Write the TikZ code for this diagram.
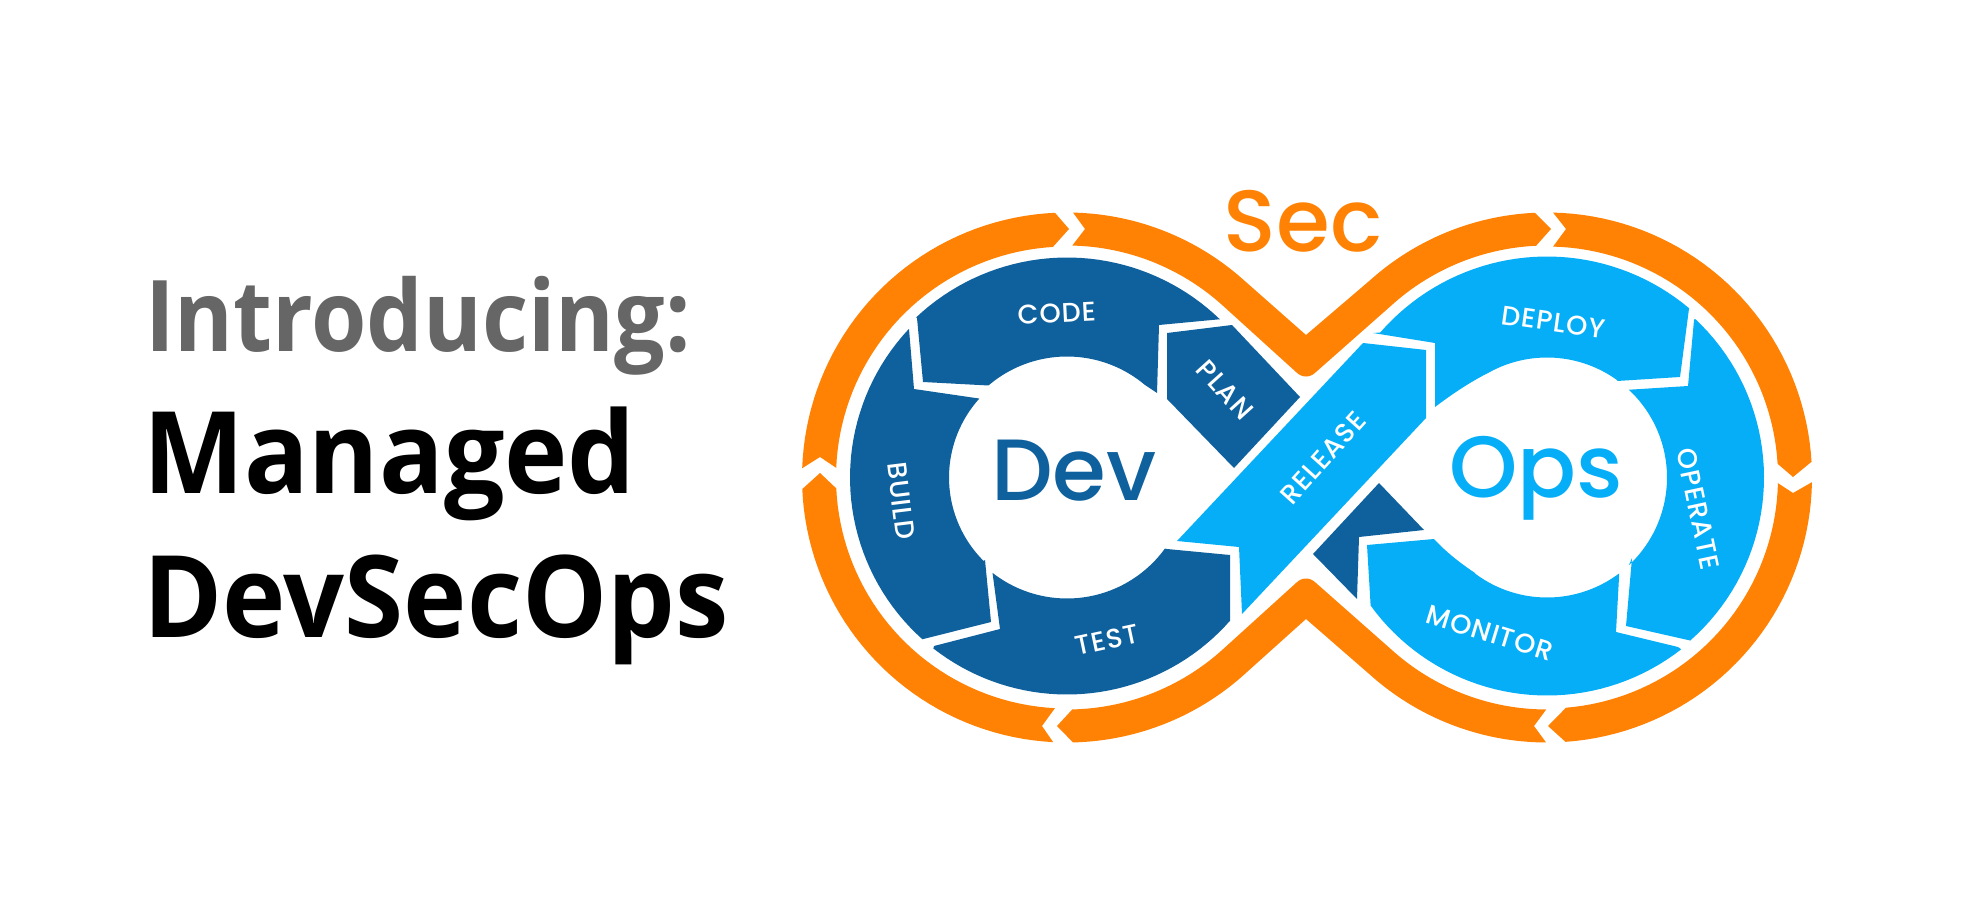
\documentclass[tikz,border=0pt]{standalone}
\usepackage{graphicx}
\usepackage{fontspec}
\setmainfont{Open Sans}
\newfontfamily\logofont[UprightFont=* Medium]{Poppins}
\newfontfamily\stepfont[UprightFont=* Medium,LetterSpace=4]{Poppins}
\definecolor{secorange}{HTML}{FF8205}
\definecolor{devblue}{HTML}{0F619E}
\definecolor{opsblue}{HTML}{05AEF7}
\definecolor{introgray}{HTML}{666666}
% circular piece of a lobe: centre x, radius, start and end angle
\newcommand{\ringarc}[4]{-- plot[domain=#3:#4,samples=40] ({#1+#2*cos(\x)},{477.5+#2*sin(\x)})}
\begin{document}
\begin{tikzpicture}[x=1pt,y=-1pt,
        secseg/.style={fill=secorange},
        devseg/.style={fill=devblue},
        opsseg/.style={fill=opsblue},
        headline/.style={anchor=base west,inner sep=0pt,font=\fontsize{114}{114}\selectfont\bfseries},
        biglabel/.style={anchor=base,inner sep=0pt,font=\logofont\fontsize{87}{87}\selectfont},
        steplabel/.style={inner sep=0pt,text=white,font=\stepfont\fontsize{27}{27}\selectfont}
    ]
    \useasboundingbox (0,0) rectangle (1980,920);

    % Title on the left
    \node[headline,text=introgray,font=\fontsize{99}{99}\selectfont\bfseries] (intro) at (145,351) {\scalebox{.905}[1]{Introducing:}};
    \node[headline,text=black] (managed) at (143,493) {\scalebox{.94}[1]{Managed}};
    \node[headline,text=black] (devsecops) at (143,637) {\scalebox{.94}[1]{DevSecOps}};

    % Orange ring, left lobe
    \fill[secseg] (820,457) \ringarc{1067}{265}{182}{267.4}
        -- (1069,229) \ringarc{1067}{231}{266.5}{182.4} -- cycle;
    \fill[secseg] (820,473) \ringarc{1067}{265}{177.5}{93}
        -- (1042,726) \ringarc{1067}{231}{93}{177.3} -- cycle;

    % Orange ring, crossing parts
    \fill[secseg] (1085,229) \ringarc{1067}{265}{271.3}{312} -- (1306,335)
        \ringarc{1547}{265}{228}{267.4}
        -- (1551,229) \ringarc{1547}{232}{267.3}{228} -- (1316,372)
        .. controls (1310,378) and (1302,378) .. (1296,372)
        \ringarc{1067}{232}{312}{271.3} -- cycle;
    \fill[secseg] (1057,726) \ringarc{1067}{265}{88.7}{48} -- (1306,619)
        \ringarc{1547}{265}{132}{90.2}
        -- (1534,726) \ringarc{1547}{232}{90.2}{132} -- (1316,583)
        .. controls (1310,577) and (1302,577) .. (1296,583)
        \ringarc{1067}{232}{48}{88.7} -- cycle;

    % Orange ring, right lobe
    \fill[secseg] (1566,229) \ringarc{1547}{265}{271.3}{356.6}
        -- (1793,477) \ringarc{1547}{231}{356.6}{271.5} -- cycle;
    \fill[secseg] (1793,493) \ringarc{1547}{265}{1}{86}
        -- (1548,726) \ringarc{1547}{231}{85.3}{1.4} -- cycle;

    % Dev blocks
    \fill[devseg] (923,382) -- (917,318) \ringarc{1067}{220}{226.7}{314}
        -- (1159,325) -- (1157,393) \ringarc{1067}{121}{310}{229.5} -- cycle;
    \fill[devseg] (914,389) -- (909,329) \ringarc{1067}{217}{223}{131.8}
        -- (991,622) -- (985,560) \ringarc{1067}{118}{135}{222} -- cycle;
    \fill[devseg] (1000,629) -- (934,646) \ringarc{1067}{217}{128}{41.3}
        -- (1230,555) -- (1167,549) \ringarc{1067}{121}{36}{128} -- cycle;
    \fill[devseg] (1167,333) -- (1232,325) -- (1300,397) -- (1234,468) -- (1167,399) -- cycle;
    \fill[devseg] (1379,483) -- (1424,530) -- (1359,537) -- (1357,599) -- (1313,554) -- cycle;

    % Ops blocks
    \fill[opsseg] (1177,541) -- (1239,547) -- (1242,614) -- (1426,418) -- (1426,350) -- (1363,343) -- cycle;
    \fill[opsseg] (1435,343) -- (1373,333) \ringarc{1547}{221}{221}{310}
        -- (1680,377) -- (1617,381) \ringarc{1547}{120}{306}{240}
        -- plot[smooth,tension=1] coordinates {(1487,373.5) (1462,388) (1435,407)} -- cycle;
    \fill[opsseg] (1688,386) -- (1694,320) \ringarc{1547}{217}{313}{408.7}
        -- (1626,626) -- (1632,558) \ringarc{1547}{120}{47}{-47} -- cycle;
    \fill[opsseg] (1616,632) -- (1678,647) \ringarc{1547}{218}{52}{144}
        -- (1367,545) -- (1434,539)
        -- plot[smooth,tension=1] coordinates {(1434,539) (1452,556) (1475,573)}
        \ringarc{1547}{120}{127}{53} -- cycle;

    % Labels
    \node[biglabel,text=secorange] (sec) at (1303,251) {Sec};
    \node[biglabel,text=devblue] (dev) at (1074,500) {Dev};
    \node[biglabel,text=opsblue] (ops) at (1536,497) {Ops};
    \node[steplabel,rotate=3] (code) at (1057,313) {CODE};
    \node[steplabel,rotate=-48] (plan) at (1225,390) {PLAN};
    \node[steplabel,rotate=-83] (build) at (901,501) {BUILD};
    \node[steplabel,rotate=12] (test) at (1107,640) {TEST};
    \node[steplabel,rotate=48] (release) at (1323,458) {RELEASE};
    \node[steplabel,rotate=-8] (deploy) at (1553,322) {DEPLOY};
    \node[steplabel,rotate=-78] (operate) at (1698,509) {OPERATE};
    \node[steplabel,rotate=-17] (monitor) at (1490,633) {MONITOR};
\end{tikzpicture}
\end{document}
